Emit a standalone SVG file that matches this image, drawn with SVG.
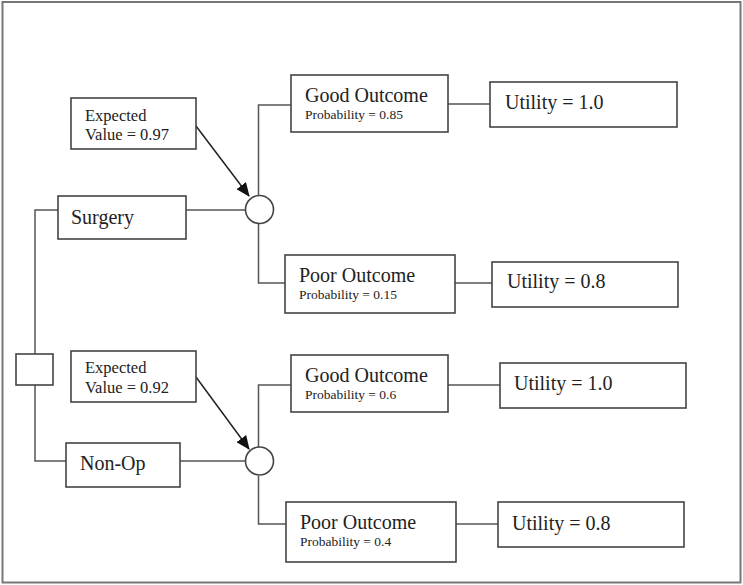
<svg xmlns="http://www.w3.org/2000/svg" width="743" height="585" viewBox="0 0 743 585">
<style>
.box{fill:#fff;stroke:#444;stroke-width:1.6}
.ln{fill:none;stroke:#555;stroke-width:1.5}
.big{font-family:"Liberation Serif",serif;font-size:20px;fill:#222}
.mid{font-family:"Liberation Serif",serif;font-size:16.5px;fill:#222}
.sm{font-family:"Liberation Serif",serif;font-size:13.5px;fill:#222}
</style>
<defs>
<marker id="ah" viewBox="0 0 14 12" refX="13" refY="6" markerWidth="14" markerHeight="12" markerUnits="userSpaceOnUse" orient="auto">
<path d="M0,0 L14,6 L0,12 z" fill="#111"/>
</marker>
</defs>
<rect x="2.5" y="2" width="738" height="580.5" fill="#fff" stroke="#777" stroke-width="2"/>
<g id="connectors">
<path class="ln" d="M58,210 H35 V354 M35,385 V461 H66"/>
<path class="ln" d="M186,210 H245"/>
<path class="ln" d="M258.5,195 V105 H291 M258.5,224 V283 H285"/>
<path class="ln" d="M448,104 H490 M455,283 H492"/>
<path class="ln" d="M180,461 H245"/>
<path class="ln" d="M258.5,447 V385 H291 M258.5,476 V524 H286"/>
<path class="ln" d="M448,385 H500 M456,524 H498"/>
<path d="M196,126 L249,196" stroke="#222" stroke-width="1.5" marker-end="url(#ah)"/>
<path d="M196,377 L249,449" stroke="#222" stroke-width="1.5" marker-end="url(#ah)"/>
</g>
<g id="decision"><rect class="box" x="16" y="354" width="37" height="31"/></g>
<g id="surgery"><rect class="box" x="58" y="196" width="128" height="43"/><text class="big" x="71" y="224">Surgery</text></g>
<g id="nonop"><rect class="box" x="66" y="443" width="114" height="44"/><text class="big" x="80" y="470">Non-Op</text></g>
<g id="ev1"><rect class="box" x="71" y="98" width="125" height="51"/><text class="mid" x="85" y="121">Expected</text><text class="mid" x="85" y="140">Value = 0.97</text></g>
<g id="ev2"><rect class="box" x="71" y="351" width="125" height="51"/><text class="mid" x="85" y="373">Expected</text><text class="mid" x="85" y="393">Value = 0.92</text></g>
<g id="chance1"><circle class="box" cx="259.5" cy="209.5" r="14"/></g>
<g id="chance2"><circle class="box" cx="259.5" cy="461" r="14"/></g>
<g id="good1"><rect class="box" x="291" y="75" width="157" height="57"/><text class="big" x="305" y="102">Good Outcome</text><text class="sm" x="305" y="119">Probability = 0.85</text></g>
<g id="poor1"><rect class="box" x="285" y="255" width="170" height="58"/><text class="big" x="299" y="282">Poor Outcome</text><text class="sm" x="299" y="299">Probability = 0.15</text></g>
<g id="good2"><rect class="box" x="291" y="355" width="157" height="57"/><text class="big" x="305" y="382">Good Outcome</text><text class="sm" x="305" y="399">Probability = 0.6</text></g>
<g id="poor2"><rect class="box" x="286" y="502" width="170" height="60"/><text class="big" x="300" y="529">Poor Outcome</text><text class="sm" x="300" y="546">Probability = 0.4</text></g>
<g id="u1"><rect class="box" x="490" y="82" width="187" height="45"/><text class="big" x="505" y="109">Utility = 1.0</text></g>
<g id="u2"><rect class="box" x="492" y="262" width="186" height="45"/><text class="big" x="507" y="288">Utility = 0.8</text></g>
<g id="u3"><rect class="box" x="500" y="363" width="186" height="45"/><text class="big" x="514" y="390">Utility = 1.0</text></g>
<g id="u4"><rect class="box" x="498" y="502" width="186" height="45"/><text class="big" x="512" y="530">Utility = 0.8</text></g>
</svg>
